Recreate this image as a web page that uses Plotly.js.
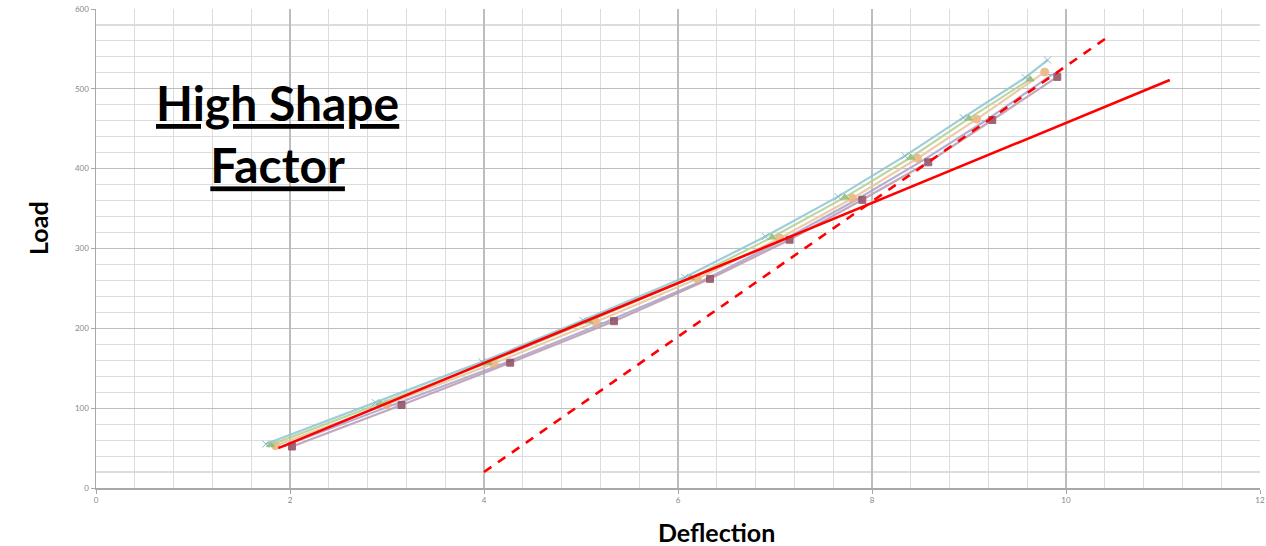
<!DOCTYPE html>
<html>
<head>
<meta charset="utf-8">
<script src="https://cdn.plot.ly/plotly-3.0.1.min.js"></script>
<style>html,body{margin:0;padding:0;background:#fff;}#chart{width:1266px;height:546px;}</style>
</head>
<body>
<div id="chart"></div>
<script>
// Data
var cyanX   = [1.75, 2.88, 3.98, 5.02, 6.07, 6.90, 7.65, 8.34, 8.94, 9.58, 9.81];
var cyanY   = [55, 107, 158, 210, 264, 315, 365, 416, 464, 514, 536];
var greenX  = [1.80, 2.93, 4.04, 5.08, 6.13, 6.97, 7.72, 8.40, 9.00, 9.63];
var greenY  = [54, 106, 157, 209, 263, 314, 364, 414, 463, 512];
var orangeX = [1.85, 3.00, 4.10, 5.15, 6.20, 7.05, 7.80, 8.47, 9.08, 9.78];
var orangeY = [53, 105, 156, 208, 262, 313, 363, 413, 462, 521];
var purpleX = [1.92, 3.07, 4.18, 5.24, 6.26, 7.09, 7.84, 8.52, 9.17, 9.86];
var purpleY = [52, 104, 155, 207, 260, 311, 361, 410, 460, 518];
var maroonX = [2.02, 3.15, 4.27, 5.34, 6.33, 7.15, 7.90, 8.58, 9.24, 9.91];
var maroonY = [52, 104, 157, 209, 262, 311, 361, 408, 461, 515];
var fitSolidX = [1.88, 11.07];
var fitSolidY = [50, 511];
var fitDashX  = [4.00, 10.42];
var fitDashY  = [20, 564];
var xTicks = [0, 2, 4, 6, 8, 10, 12];
var yTicks = [0, 100, 200, 300, 400, 500, 600];

function series(x, y, color, lineColor, sym, size) {
  return {x: x, y: y, type: 'scatter', mode: 'lines+markers',
    line: {color: lineColor, width: 2.2},
    marker: {symbol: sym, size: size, color: color, line: {color: color, width: 1}},
    opacity: 0.85, showlegend: false, hoverinfo: 'skip'};
}
var traces = [
  series(purpleX, purpleY, '#a49cc8', '#aaa2cc', 'line-ew', 6),
  series(maroonX, maroonY, '#8e4a5e', '#b89aae', 'square', 7),
  series(orangeX, orangeY, '#ecb27a', '#e8c49a', 'circle', 8),
  series(greenX, greenY, '#93b86a', '#b4cf92', 'triangle-up', 7),
  series(cyanX, cyanY, '#6fb0c4', '#8cc6d4', 'x-thin', 7),
  {x: fitSolidX, y: fitSolidY, type: 'scatter', mode: 'lines',
   line: {color: '#ff0000', width: 2.6}, showlegend: false, hoverinfo: 'skip'},
  {x: fitDashX, y: fitDashY, type: 'scatter', mode: 'lines',
   line: {color: '#ff0000', width: 2.6, dash: '9px,8px'}, showlegend: false, hoverinfo: 'skip'}
];

var layout = {
  width: 1266, height: 546,
  margin: {l: 96, r: 6, t: 9, b: 58},
  paper_bgcolor: '#ffffff', plot_bgcolor: '#ffffff',
  font: {family: 'Lato, "Open Sans", sans-serif', color: '#000'},
  xaxis: {
    range: [0, 12], tickvals: xTicks, ticktext: xTicks.map(String),
    showgrid: true, gridcolor: '#bdbdbd', gridwidth: 1.3,
    minor: {dtick: 0.4, tick0: 0, showgrid: true, gridcolor: '#dcdcdc', gridwidth: 1.1, ticks: ''},
    showline: true, linecolor: '#a8a8a8', linewidth: 1.5,
    ticks: 'outside', ticklen: 4, tickcolor: '#a8a8a8',
    tickfont: {size: 8, color: '#888888'},
    zeroline: false, fixedrange: true
  },
  yaxis: {
    range: [0, 600], tickvals: yTicks, ticktext: yTicks.map(String),
    showgrid: true, gridcolor: '#bdbdbd', gridwidth: 1.3,
    minor: {dtick: 20, tick0: 0, showgrid: true, gridcolor: '#dcdcdc', gridwidth: 1.1, ticks: ''},
    showline: true, linecolor: '#a8a8a8', linewidth: 1.5,
    ticks: 'outside', ticklen: 4, tickcolor: '#a8a8a8',
    tickfont: {size: 8, color: '#888888'},
    zeroline: false, fixedrange: true
  },
  annotations: [{
    xref: 'x', yref: 'y', x: 1.876, y: 444, xanchor: 'center', yanchor: 'middle',
    text: '<b><u>High Shape</u></b><br><b><u>Factor</u></b>',
    showarrow: false, align: 'center',
    font: {size: 48, color: '#000', family: 'Lato, "Open Sans", sans-serif'}
  }, {
    xref: 'paper', yref: 'paper', x: (716 - 96) / 1164, y: -(532 - 488) / 479,
    xanchor: 'center', yanchor: 'middle', showarrow: false,
    text: '<b>Deflection</b>', font: {size: 25, color: '#000'}
  }, {
    xref: 'paper', yref: 'paper', x: -(96 - 38) / 1164, y: (488 - 228) / 479,
    xanchor: 'center', yanchor: 'middle', showarrow: false, textangle: -90,
    text: '<b>Load</b>', font: {size: 25, color: '#000'}
  }]
};

Plotly.newPlot('chart', traces, layout, {staticPlot: true, displayModeBar: false});
</script>
</body>
</html>
